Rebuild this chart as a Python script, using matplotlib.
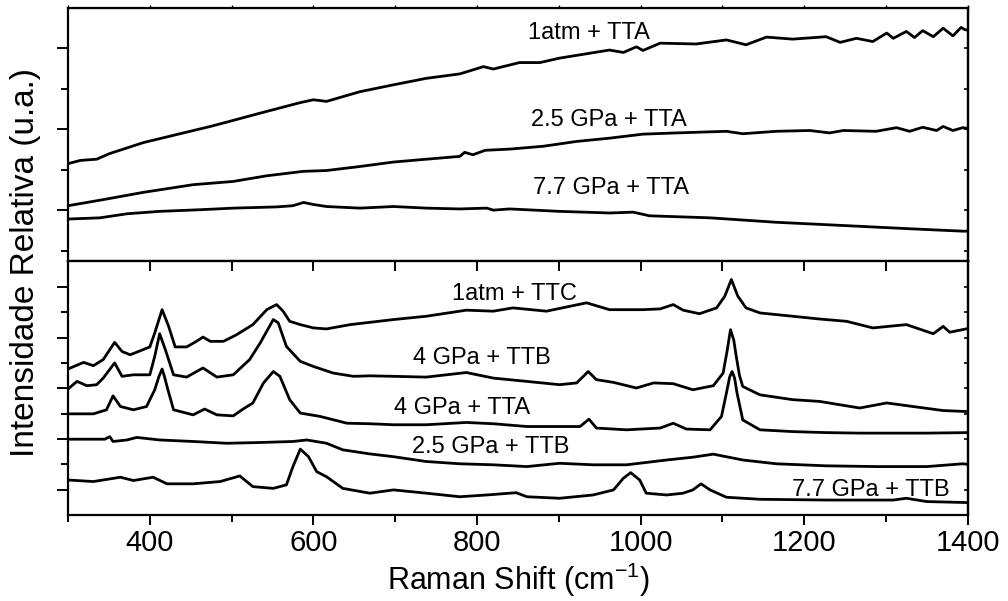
import matplotlib
matplotlib.use('Agg')
import matplotlib.pyplot as plt
from matplotlib.ticker import MultipleLocator, FixedLocator

plt.rcParams['font.family'] = 'Liberation Sans'
plt.rcParams['mathtext.fontset'] = 'custom'
plt.rcParams['mathtext.rm'] = 'Liberation Sans'
plt.rcParams['mathtext.it'] = 'Liberation Sans:italic'

# ---- top panel spectra (TTA series) ----
x_1atm_tta = [300, 315, 335, 351, 392, 441, 474, 502, 535, 584, 600, 616, 657, 698, 738, 779, 808, 820, 852, 877,
              901, 962, 979, 995, 1003, 1024, 1068, 1105, 1129, 1154, 1186, 1227, 1244, 1264, 1284, 1301, 1309, 1325,
              1335, 1345, 1358, 1370, 1382, 1392, 1396, 1400]
y_1atm_tta = [2.15, 2.23, 2.26, 2.40, 2.67, 2.91, 3.07, 3.22, 3.40, 3.66, 3.73, 3.69, 3.93, 4.10, 4.26, 4.37, 4.55, 4.49,
              4.65, 4.65, 4.76, 4.96, 4.90, 5.04, 4.95, 5.13, 5.11, 5.21, 5.09, 5.28, 5.23, 5.29, 5.15, 5.25, 5.17, 5.38,
              5.25, 5.42, 5.27, 5.44, 5.29, 5.50, 5.31, 5.52, 5.47, 5.45]

x_25_tta = [300, 343, 392, 453, 502, 543, 588, 616, 657, 698, 738, 779, 785, 795, 810, 840, 881, 922, 962, 1003,
            1044, 1105, 1125, 1166, 1207, 1231, 1248, 1288, 1313, 1329, 1345, 1362, 1370, 1382, 1394, 1400]
y_25_tta = [1.11, 1.26, 1.44, 1.63, 1.71, 1.85, 1.96, 1.98, 2.08, 2.19, 2.26, 2.33, 2.43, 2.37, 2.48, 2.51, 2.58, 2.70,
            2.78, 2.88, 2.91, 2.95, 2.89, 2.95, 2.97, 2.91, 2.97, 2.95, 3.04, 2.95, 3.05, 2.97, 3.07, 2.97, 3.04, 3.02]

x_77_tta = [300, 339, 372, 412, 461, 502, 555, 575, 588, 600, 616, 657, 698, 738, 779, 812, 820, 840, 901, 962,
            991, 1011, 1085, 1166, 1248, 1329, 1394, 1400]
y_77_tta = [0.78, 0.81, 0.91, 0.97, 1.01, 1.05, 1.08, 1.11, 1.19, 1.14, 1.09, 1.05, 1.09, 1.05, 1.03, 1.05, 1.00, 1.03,
            0.97, 0.93, 0.95, 0.86, 0.81, 0.70, 0.62, 0.54, 0.48, 0.48]

# ---- bottom panel spectra ----
x_1atm_ttc = [300, 319, 331, 343, 357, 366, 376, 400, 406, 415, 423, 431, 445, 457, 465, 474, 490, 506, 526, 543,
              555, 563, 571, 584, 600, 616, 645, 669, 698, 738, 787, 820, 844, 885, 934, 962, 1003, 1024, 1040, 1052,
              1072, 1093, 1103, 1111, 1119, 1129, 1146, 1186, 1219, 1252, 1284, 1325, 1358, 1370, 1378, 1398]
y_1atm_ttc = [5.76, 6.02, 5.89, 6.13, 6.81, 6.45, 6.32, 6.63, 7.18, 8.10, 7.44, 6.63, 6.63, 6.85, 7.02, 6.85, 6.85, 7.11,
              7.51, 8.10, 8.30, 8.04, 7.64, 7.51, 7.38, 7.34, 7.51, 7.60, 7.71, 7.84, 8.08, 8.04, 8.17, 8.04, 8.37, 8.10,
              8.10, 8.13, 8.30, 8.08, 7.94, 8.17, 8.63, 9.29, 8.63, 8.17, 7.97, 7.84, 7.73, 7.64, 7.38, 7.51, 7.15, 7.44,
              7.21, 7.34]

x_4_ttb = [300, 311, 323, 335, 343, 357, 366, 380, 400, 406, 412, 419, 429, 445, 465, 482, 502, 522, 535, 551,
           557, 567, 584, 600, 624, 649, 669, 698, 738, 787, 820, 861, 901, 922, 936, 946, 967, 995, 1016, 1040,
           1064, 1089, 1101, 1106, 1110, 1114, 1117, 1121, 1125, 1146, 1186, 1219, 1268, 1301, 1333, 1370, 1400]
y_4_ttb = [4.97, 5.27, 5.10, 5.14, 5.40, 6.00, 5.47, 5.53, 5.53, 6.26, 7.15, 6.52, 5.53, 5.44, 5.80, 5.44, 5.53, 6.13,
           6.79, 7.71, 7.58, 6.65, 6.06, 5.86, 5.60, 5.47, 5.49, 5.47, 5.44, 5.62, 5.40, 5.27, 5.14, 5.21, 5.66, 5.34,
           5.23, 5.01, 5.21, 5.18, 4.94, 5.10, 5.60, 6.50, 7.31, 6.90, 6.26, 5.50, 5.07, 4.74, 4.55, 4.48, 4.22, 4.42,
           4.28, 4.12, 4.08]

x_4_tta = [300, 331, 347, 355, 364, 380, 396, 406, 411, 415, 418, 421, 429, 453, 467, 482, 502, 514, 526, 539,
           551, 559, 571, 584, 608, 641, 669, 698, 738, 787, 820, 861, 901, 926, 937, 946, 983, 1024, 1040, 1056,
           1085, 1099, 1105, 1109, 1112, 1115, 1118, 1125, 1146, 1186, 1227, 1268, 1309, 1350, 1400]
y_4_tta = [3.99, 3.99, 4.15, 4.70, 4.28, 4.15, 4.28, 4.94, 5.45, 5.76, 5.45, 5.07, 4.15, 3.95, 4.18, 3.95, 3.91, 4.18,
           4.42, 5.21, 5.66, 5.47, 4.55, 4.02, 3.89, 3.62, 3.60, 3.56, 3.56, 3.65, 3.60, 3.49, 3.49, 3.49, 3.78, 3.43,
           3.36, 3.43, 3.62, 3.39, 3.36, 3.89, 4.81, 5.45, 5.66, 5.40, 4.81, 3.75, 3.36, 3.29, 3.25, 3.23, 3.23, 3.23,
           3.25]

x_25_ttb = [300, 345, 351, 355, 372, 384, 412, 453, 494, 535, 575, 592, 616, 636, 669, 698, 738, 779, 820, 861,
            901, 942, 983, 1032, 1064, 1089, 1125, 1166, 1227, 1288, 1350, 1394, 1400]
y_25_ttb = [2.99, 2.99, 3.09, 2.90, 2.96, 3.06, 2.96, 2.90, 2.83, 2.86, 2.90, 2.96, 2.83, 2.57, 2.41, 2.30, 2.11, 2.02,
            1.98, 1.91, 2.04, 1.98, 1.98, 2.17, 2.28, 2.40, 2.17, 2.02, 1.94, 1.91, 1.91, 2.02, 2.00]

x_77_ttb = [300, 331, 364, 380, 404, 421, 453, 486, 510, 526, 551, 567, 575, 584, 594, 604, 616, 636, 669, 698,
            738, 779, 812, 848, 861, 901, 942, 967, 979, 988, 999, 1007, 1032, 1052, 1064, 1074, 1085, 1105, 1146, 1227,
            1309, 1325, 1350, 1400]
y_77_ttb = [1.38, 1.32, 1.49, 1.36, 1.49, 1.23, 1.23, 1.32, 1.54, 1.12, 1.05, 1.19, 1.91, 2.60, 2.30, 1.71, 1.51, 1.05,
            0.86, 0.99, 0.86, 0.72, 0.79, 0.88, 0.72, 0.66, 0.79, 0.99, 1.45, 1.67, 1.38, 0.86, 0.79, 0.86, 0.99, 1.23,
            0.99, 0.70, 0.62, 0.59, 0.59, 0.66, 0.53, 0.49]

# label text and anchor (x in cm-1, y in panel units)
top_labels = [('1atm + TTA', 937, 5.38), ('2.5 GPa + TTA', 961, 3.23), ('7.7 GPa + TTA', 964, 1.56)]
bot_labels = [('1atm + TTC', 846, 8.70), ('4 GPa + TTB', 806, 6.19), ('4 GPa + TTA', 782, 4.22),
              ('2.5 GPa + TTB', 817, 2.70), ('7.7 GPa + TTB', 1281, 0.99)]

fig, (ax1, ax2) = plt.subplots(2, 1, figsize=(10.08, 6.01), dpi=100, sharex=True)
fig.subplots_adjust(left=0.0675, right=0.960, top=0.9867, bottom=0.1431, hspace=0)

lw = 2.0
for xs, ys in [(x_1atm_tta, y_1atm_tta), (x_25_tta, y_25_tta), (x_77_tta, y_77_tta)]:
    ax1.plot(xs, ys, color='black', lw=lw)
for xs, ys in [(x_1atm_ttc, y_1atm_ttc), (x_4_ttb, y_4_ttb), (x_4_tta, y_4_tta),
               (x_25_ttb, y_25_ttb), (x_77_ttb, y_77_ttb)]:
    ax2.plot(xs, ys, color='black', lw=lw)

for txt, xx, yy in top_labels:
    ax1.text(xx, yy, txt, fontsize=17, ha='center', va='center')
for txt, xx, yy in bot_labels:
    ax2.text(xx, yy, txt, fontsize=17, ha='center', va='center')

ax1.set_xlim(300, 1400)
ax1.set_ylim(-0.27, 6.0)
ax2.set_ylim(0, 10)

for ax in (ax1, ax2):
    for s in ax.spines.values():
        s.set_linewidth(1.6)

# y ticks: long ticks outside on the left, short inward ticks on the right
ax1.yaxis.set_major_locator(FixedLocator([1, 3, 5]))
ax1.yaxis.set_minor_locator(FixedLocator([0, 2, 4]))
ax2.yaxis.set_major_locator(FixedLocator([1, 3, 5, 7, 9]))
ax2.yaxis.set_minor_locator(FixedLocator([2, 4, 6, 8]))
for ax in (ax1, ax2):
    ax.tick_params(axis='y', which='both', left=True, right=False, labelleft=False,
                   direction='out', width=1.4)
    ax.tick_params(axis='y', which='major', length=8)
    ax.tick_params(axis='y', which='minor', length=5)

ax1r = ax1.secondary_yaxis('right')
ax1r.set_yticks([0, 1, 2, 3, 4, 5])
ax1r.tick_params(direction='in', length=3, width=1.2, labelright=False)
ax1r.spines['right'].set_linewidth(1.6)
ax2r = ax2.secondary_yaxis('right')
ax2r.set_yticks([1, 2, 3, 4, 5, 6, 7, 8, 9])
ax2r.tick_params(direction='in', length=3, width=1.2, labelright=False)
ax2r.spines['right'].set_linewidth(1.6)

# x ticks
ax2.xaxis.set_major_locator(MultipleLocator(200))
ax2.xaxis.set_minor_locator(MultipleLocator(100))
ax2.tick_params(axis='x', which='major', direction='out', length=7, width=1.4, labelsize=21, pad=3)
ax2.tick_params(axis='x', which='minor', direction='out', length=5, width=1.4)
ax1.tick_params(axis='x', which='both', bottom=False, labelbottom=False)

ax2t = ax2.secondary_xaxis('top')
ax2t.set_xticks(list(range(400, 1400, 100)))
ax2t.tick_params(direction='in', length=7, width=1.4, labeltop=False)
ax1t = ax1.secondary_xaxis('top')
ax1t.set_xticks(list(range(300, 1500, 100)))
ax1t.tick_params(direction='out', length=2, width=1.0, labeltop=False)

fig.text(0.514, 0.0183, r'Raman Shift (cm$^{-1}$)', fontsize=22, ha='center', va='baseline')
fig.text(0.025, 0.564, 'Intensidade Relativa (u.a.)', fontsize=24, ha='center', va='center', rotation=90)

fig.savefig('out.png', dpi=100)
